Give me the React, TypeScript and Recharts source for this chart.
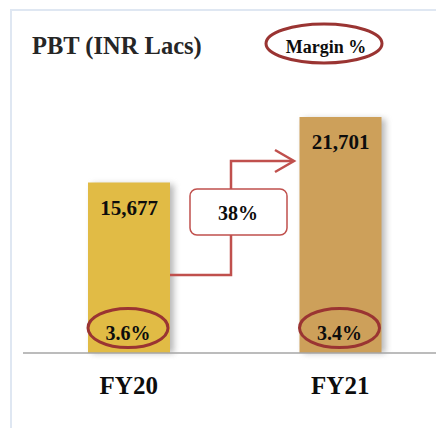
import React from 'react';
import { BarChart, Bar, XAxis, YAxis } from 'recharts';

const categories = ['FY20', 'FY21'];
const pbtValues = [15677, 21701];
const marginLabels = ['3.6%', '3.4%'];
const growthLabels = ['38%'];
const barColors = ['#E1BB45', '#CDA05A'];

const data = categories.map((name, i) => ({
  name,
  pbt: pbtValues[i],
  margin: marginLabels[i],
}));

const SERIF = '"Liberation Serif", "Times New Roman", serif';
const RED = '#C0504D';
const DARK_RED = '#9A3432';

function BarShape(props: any) {
  const { x, y, width, height, index, payload } = props;
  const base = y + height;
  const cx = x + width / 2;
  const right = x + width;
  return (
    <g>
      <defs>
        <filter id={`shadow-${index}`} x="-50%" y="-10%" width="200%" height="120%">
          <feGaussianBlur stdDeviation="3" />
        </filter>
      </defs>
      <rect
        x={x + 4}
        y={y + 2}
        width={width}
        height={height - 2}
        fill="#7f7f7f"
        opacity={0.55}
        filter={`url(#shadow-${index})`}
      />
      <rect x={x} y={y} width={width} height={height} fill={barColors[index]} />
      <text
        x={cx}
        y={y + 32}
        textAnchor="middle"
        fontFamily={SERIF}
        fontWeight="bold"
        fontSize={21}
        fill="#0d0d0d"
      >
        {payload.pbt.toLocaleString('en-US')}
      </text>
      <ellipse cx={cx - 1} cy={base - 25} rx={40} ry={19.5} fill="none" stroke={DARK_RED} strokeWidth={3} />
      <text
        x={cx - 1}
        y={base - 13}
        textAnchor="middle"
        fontFamily={SERIF}
        fontWeight="bold"
        fontSize={20}
        fill="#0d0d0d"
      >
        {payload.margin}
      </text>
      {index === 0 && (
        <g>
          <polyline
            points={`${right},${base - 78} ${right + 61},${base - 78} ${right + 61},${base - 192} ${right + 123},${base - 192}`}
            fill="none"
            stroke={RED}
            strokeWidth={2.5}
          />
          <polyline
            points={`${right + 105},${base - 203} ${right + 124},${base - 192} ${right + 105},${base - 181}`}
            fill="none"
            stroke={RED}
            strokeWidth={2.5}
          />
          <rect
            x={right + 20}
            y={base - 164}
            width={97}
            height={46}
            rx={7}
            fill="#ffffff"
            stroke={RED}
            strokeWidth={1.5}
          />
          <text
            x={right + 68}
            y={base - 133}
            textAnchor="middle"
            fontFamily={SERIF}
            fontWeight="bold"
            fontSize={20}
            fill="#0d0d0d"
          >
            {growthLabels[0]}
          </text>
        </g>
      )}
    </g>
  );
}

function CategoryTick(props: any) {
  const { x, payload } = props;
  return (
    <text
      x={x}
      y={394}
      textAnchor="middle"
      fontFamily={SERIF}
      fontWeight="bold"
      fontSize={25}
      fill="#0d0d0d"
    >
      {payload.value}
    </text>
  );
}

export default function App() {
  return (
    <div
      style={{
        position: 'fixed',
        left: 0,
        top: 0,
        width: 436,
        height: 428,
        overflow: 'hidden',
        background: '#ffffff',
      }}
    >
      <div
        style={{
          position: 'absolute',
          left: 10,
          top: 9,
          width: 600,
          height: 600,
          borderLeft: '2px solid #dfe7f2',
          borderTop: '2px solid #dfe7f2',
        }}
      />
      <div style={{ position: 'absolute', left: 0, top: 0 }}>
        <BarChart
          width={446}
          height={428}
          data={data}
          margin={{ top: 92, right: 0, bottom: 0, left: 23 }}
        >
          <XAxis
            dataKey="name"
            height={75}
            tickLine={false}
            axisLine={{ stroke: '#a6a6a6', strokeWidth: 1.5 }}
            tick={<CategoryTick />}
            interval={0}
          />
          <YAxis hide domain={[0, 24000]} />
          <Bar dataKey="pbt" barSize={82} isAnimationActive={false} shape={<BarShape />} />
        </BarChart>
      </div>
      <svg
        width={436}
        height={428}
        style={{ position: 'absolute', left: 0, top: 0, pointerEvents: 'none' }}
      >
        <text x={32} y={54} fontFamily={SERIF} fontWeight="bold" fontSize={24.5} fill="#262626">
          PBT (INR Lacs)
        </text>
        <ellipse cx={324} cy={43.5} rx={58} ry={19.5} fill="none" stroke={DARK_RED} strokeWidth={3} />
        <text
          x={326}
          y={53}
          textAnchor="middle"
          fontFamily={SERIF}
          fontWeight="bold"
          fontSize={18}
          fill="#0d0d0d"
        >
          Margin %
        </text>
      </svg>
    </div>
  );
}
